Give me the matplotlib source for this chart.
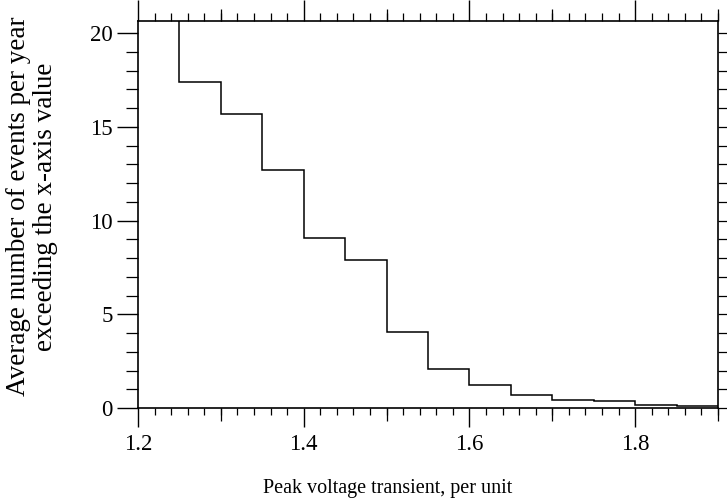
import matplotlib
matplotlib.use("Agg")
import matplotlib.pyplot as plt
from matplotlib.ticker import MultipleLocator, FixedLocator, NullFormatter
import numpy as np

# Data: step edges (per unit) and average events per year exceeding x
edges = [1.20, 1.25, 1.30, 1.35, 1.40, 1.45, 1.50, 1.55, 1.60,
         1.65, 1.70, 1.75, 1.80, 1.85, 1.90]
events = [23.0, 17.4, 15.7, 12.7, 9.08, 7.9, 4.07, 2.08, 1.24,
          0.69, 0.41, 0.37, 0.14, 0.10]
xticks = [1.2, 1.4, 1.6, 1.8]
xticklabels = ["1.2", "1.4", "1.6", "1.8"]
yticks = [0, 5, 10, 15, 20]

plt.rcParams['font.family'] = ['Liberation Serif', 'DejaVu Serif']
plt.rcParams['font.size'] = 16

fig = plt.figure(figsize=(7.27, 5.03), dpi=100)
ax = fig.add_axes([0.1898, 0.1889, 0.9876 - 0.1898, 0.9583 - 0.1889])

ax.stairs(events, edges, baseline=None, color='black', linewidth=1.1)

ax.set_xlim(1.2, 1.9)
ax.set_ylim(0, 20.65)

for s in ax.spines.values():
    s.set_linewidth(1.2)

# bottom axis
ax.xaxis.set_major_locator(FixedLocator(xticks))
ax.set_xticklabels(xticklabels)
ax.xaxis.set_minor_locator(MultipleLocator(0.02))
ax.tick_params(axis='x', which='major', direction='out', length=14, width=1.0, pad=5, labelsize=16.5)
ax.tick_params(axis='x', which='minor', direction='out', length=5, width=0.9)

# left axis
ax.yaxis.set_major_locator(FixedLocator(yticks))
ax.yaxis.set_minor_locator(MultipleLocator(1))
ax.tick_params(axis='y', which='major', direction='out', length=15, width=1.0, pad=3, labelsize=16.5)
ax.tick_params(axis='y', which='minor', direction='out', length=9, width=0.9)

# medium bottom ticks
sb = ax.secondary_xaxis('bottom')
sb.xaxis.set_major_locator(FixedLocator([1.3, 1.5, 1.7, 1.9]))
sb.xaxis.set_major_formatter(NullFormatter())
sb.tick_params(axis='x', which='major', direction='out', length=9, width=0.9)
sb.spines['bottom'].set_visible(False)

# top ticks
st = ax.secondary_xaxis('top')
st.xaxis.set_major_locator(FixedLocator([1.2, 1.4, 1.6, 1.8]))
st.xaxis.set_minor_locator(MultipleLocator(0.02))
st.xaxis.set_major_formatter(NullFormatter())
st.tick_params(axis='x', which='major', direction='out', length=15, width=1.0)
st.tick_params(axis='x', which='minor', direction='out', length=6, width=0.9)
st.spines['top'].set_visible(False)

st2 = ax.secondary_xaxis('top')
st2.xaxis.set_major_locator(FixedLocator([1.3, 1.5, 1.7, 1.9]))
st2.xaxis.set_major_formatter(NullFormatter())
st2.tick_params(axis='x', which='major', direction='out', length=9, width=0.9)
st2.spines['top'].set_visible(False)

# right ticks
sr = ax.secondary_yaxis('right')
sr.yaxis.set_major_locator(MultipleLocator(1))
sr.yaxis.set_major_formatter(NullFormatter())
sr.tick_params(axis='y', which='major', direction='out', length=7, width=0.9)
sr.spines['right'].set_visible(False)

ax.set_xlabel("Peak voltage transient, per unit", fontsize=14.5)
ax.xaxis.set_label_coords(0.431, -0.207)
ax.xaxis.label.set_va('center')
ax.set_ylabel("Average number of events per year\nexceeding the x-axis value", fontsize=19.5, linespacing=1.1)
ax.yaxis.set_label_coords(-0.183, 0.52)
ax.yaxis.label.set_va('center')

fig.savefig("out.png", dpi=100)
